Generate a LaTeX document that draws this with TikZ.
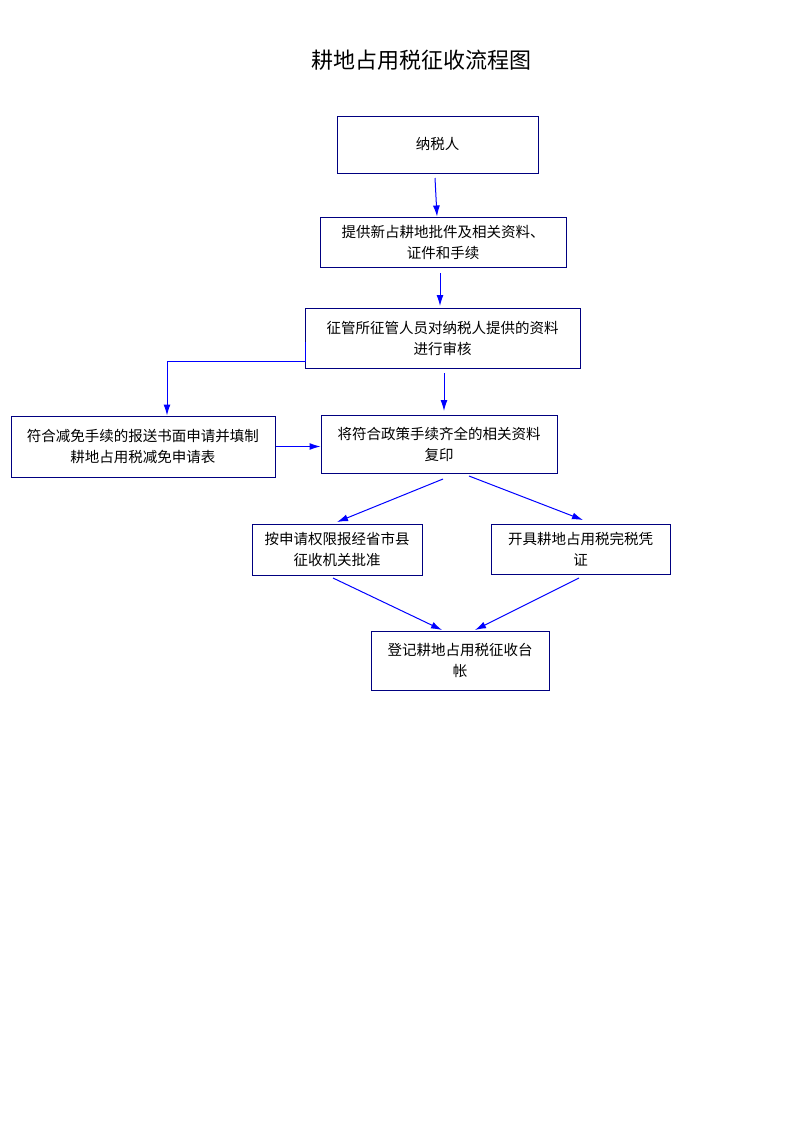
\documentclass[tikz,border=0pt]{standalone}
\usepackage{fontspec}
\setmainfont{Noto Sans CJK SC}
\newfontfamily\cjk{Noto Sans CJK SC}
\usetikzlibrary{arrows.meta}
\begin{document}
\begin{tikzpicture}[x=1pt,y=-1pt,
  box/.style={draw=blue!50!black,line width=1pt,align=center,inner sep=0pt,font=\cjk\fontsize{14.5}{21}\selectfont},
  link/.style={draw=blue,line width=1pt,-{Latex[length=11pt,width=7pt]}}]
\useasboundingbox (0,0) rectangle (793,1122);
\node[font=\cjk\fontsize{22}{26}\selectfont] (title) at (421,60) {耕地占用税征收流程图};
% boxes
\node[box,minimum width=201,minimum height=57] (payer) at (437.5,144.5) {纳税人};
\node[box,minimum width=246,minimum height=50] (provide) at (443,242) {提供新占耕地批件及相关资料、\\证件和手续};
\node[box,minimum width=275,minimum height=60] (check) at (442.5,338) {征管所征管人员对纳税人提供的资料\\进行审核};
\node[box,minimum width=264,minimum height=61] (relief) at (143,446.5) {符合减免手续的报送书面申请并填制\\耕地占用税减免申请表};
\node[box,minimum width=236,minimum height=58] (copy) at (439,444) {将符合政策手续齐全的相关资料\\复印};
\node[box,minimum width=170,minimum height=51] (approve) at (337,549.5) {按申请权限报经省市县\\征收机关批准};
\node[box,minimum width=179,minimum height=50] (voucher) at (580.5,549) {开具耕地占用税完税凭\\证};
\node[box,minimum width=178,minimum height=59] (ledger) at (460,660.5) {登记耕地占用税征收台\\帐};
% connectors
\coordinate (c1) at (305,361);
\coordinate (c2) at (167,361);
\draw[link] (435,178) -- (provide.north -| 437,0);
\draw[link] (440,273) -- (440,306);
\draw[link] (444,373) -- (444,411);
\draw[link] (305,342) -- (c1) -- (c2) -- (relief.north -| c2);
\draw[link] (relief.east) -- (copy.west |- relief.east);
\draw[link] (443,479) -- (337,522);
\draw[link] (469,476) -- (583,520);
\draw[link] (333,578) -- (442,630);
\draw[link] (579,578) -- (475,630);
\end{tikzpicture}
\end{document}
